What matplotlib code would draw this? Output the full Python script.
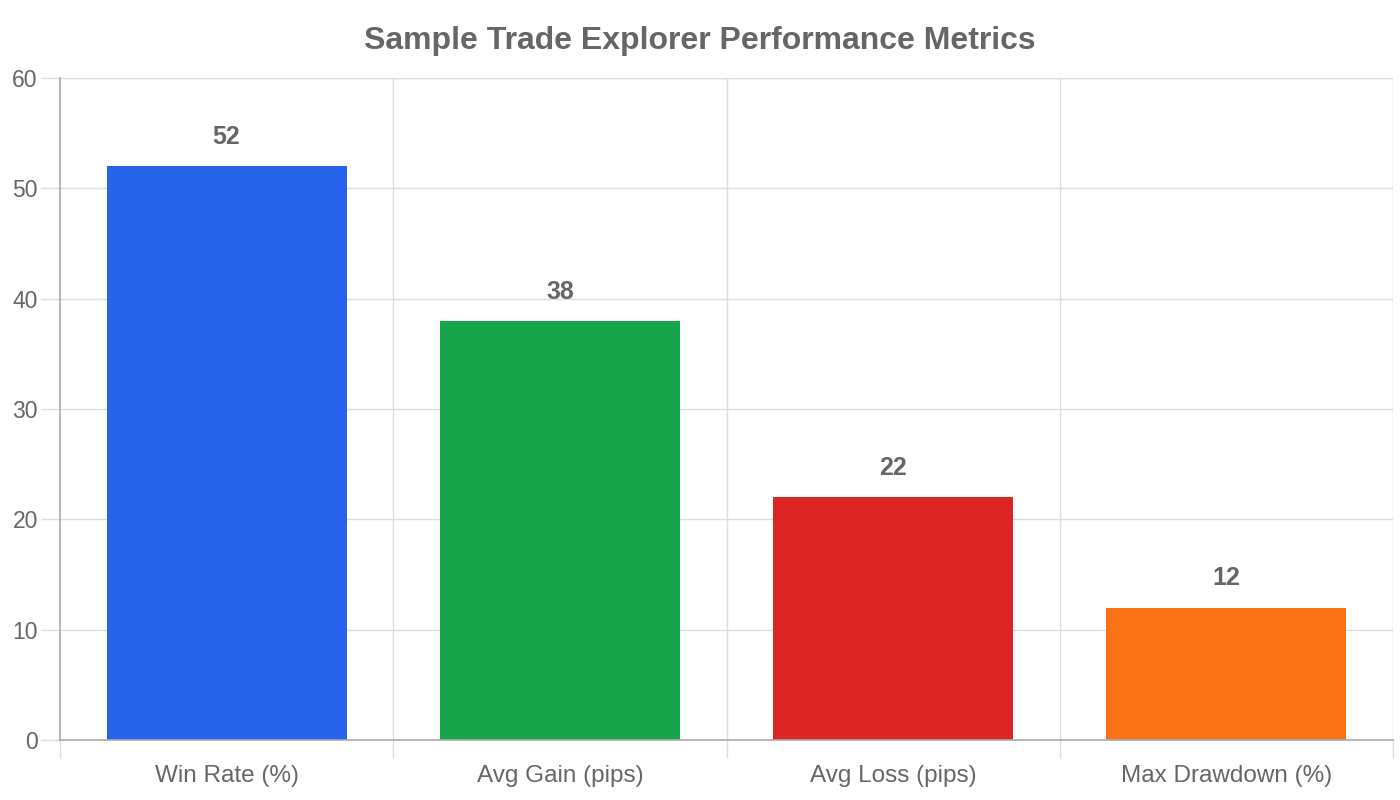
import matplotlib.pyplot as plt

plt.rcParams['font.family'] = ['Liberation Sans', 'DejaVu Sans']

# --- dados ---
categorias = ['Win Rate (%)', 'Avg Gain (pips)', 'Avg Loss (pips)', 'Max Drawdown (%)']
valores = [52, 38, 22, 12]
cores = ['#2563EB', '#16A34A', '#DC2626', '#F97316']
yticks = [0, 10, 20, 30, 40, 50, 60]

cinza_texto = '#666666'

fig = plt.figure(figsize=(14, 8), dpi=100)
ax = fig.add_axes([60 / 1400, 60 / 800, 1333 / 1400, 662 / 800])

x = list(range(len(categorias)))
ax.bar(x, valores, width=0.72, color=cores, zorder=3)

ax.set_xlim(-0.5, len(categorias) - 0.5)
ax.set_ylim(0, 60)
ax.set_yticks(yticks)

# grade: horizontais nas marcas de y, verticais entre categorias
ax.grid(axis='y', color='#dddddd', linewidth=1, zorder=0)
for b in [i + 0.5 for i in x[:-1]]:
    ax.axvline(b, color='#dddddd', linewidth=1, zorder=0)
ax.axvline(len(categorias) - 0.5, color='#dddddd', linewidth=1, zorder=0)
ax.axhline(60, color='#dddddd', linewidth=1, zorder=0)

# marcas das fronteiras abaixo do eixo
ax.set_xticks([i - 0.5 for i in x] + [len(categorias) - 0.5], minor=True)
ax.tick_params(axis='x', which='minor', length=13, color='#dddddd', width=1)
ax.set_xticks(x)
ax.set_xticklabels(categorias)
ax.tick_params(axis='x', which='major', length=0, pad=18, labelsize=17.5, labelcolor=cinza_texto)
ax.tick_params(axis='y', length=14, color='#dddddd', width=1, pad=2, labelsize=16.5, labelcolor=cinza_texto)

for s in ['top', 'right']:
    ax.spines[s].set_visible(False)
ax.spines['left'].set_color('#aaaaaa')
ax.spines['bottom'].set_color('#aaaaaa')
ax.spines['left'].set_linewidth(1.2)
ax.spines['bottom'].set_linewidth(1.2)
ax.spines['left'].set_zorder(4)
ax.spines['bottom'].set_zorder(4)

for xi, v in zip(x, valores):
    ax.annotate(str(v), (xi, v), xytext=(0, 21), textcoords='offset points',
                ha='center', va='center', fontsize=18, fontweight='bold', color=cinza_texto)

fig.text(0.5, 1 - 41 / 800, 'Sample Trade Explorer Performance Metrics', ha='center', va='center',
         fontsize=23, fontweight='bold', color=cinza_texto)

fig.savefig('out.png', dpi=100)
